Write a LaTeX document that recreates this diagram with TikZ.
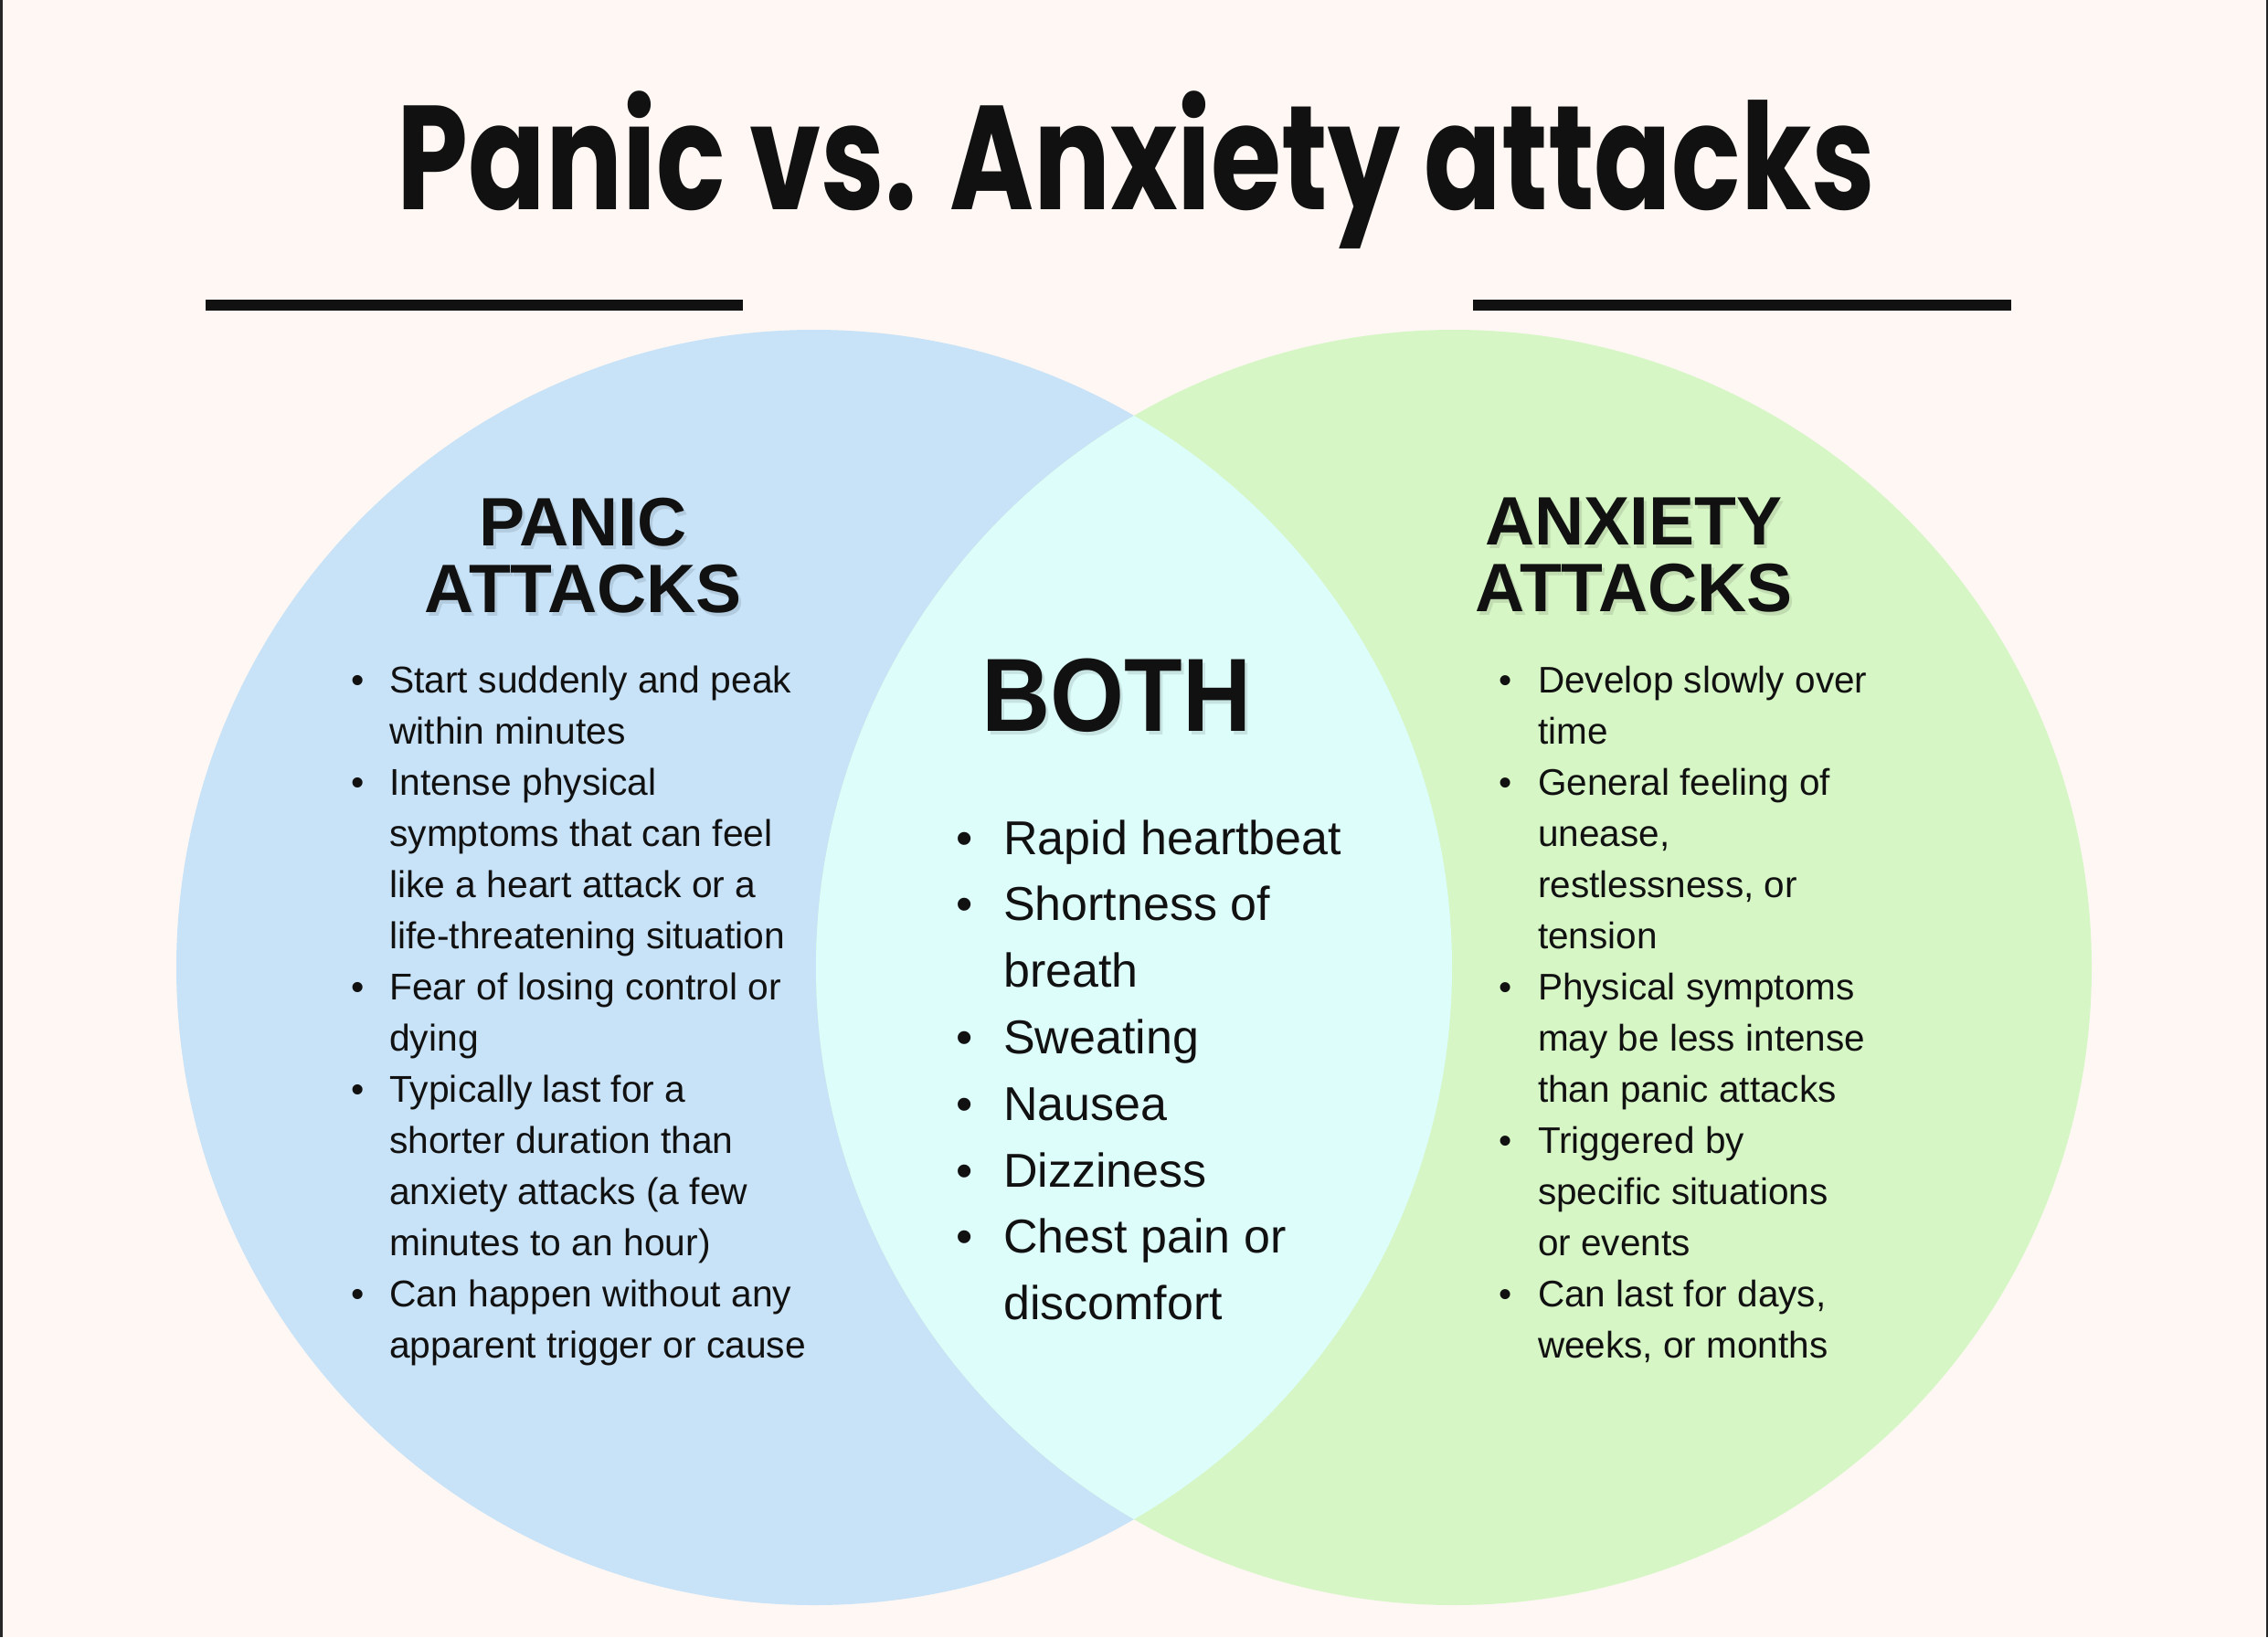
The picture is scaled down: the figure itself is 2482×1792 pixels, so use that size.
\documentclass[tikz,border=0pt]{standalone}
\usepackage{fontspec}
\usepackage{array}
\usepackage{graphicx}
\setmainfont{Liberation Sans}
\newfontfamily\titlefont{Poppins}
\definecolor{bg}{HTML}{FEF7F3}
\definecolor{bluec}{HTML}{C8E3F8}
\definecolor{greenc}{HTML}{D6F6C5}
\definecolor{midc}{HTML}{DDFDFB}
\definecolor{ink}{HTML}{111111}
\newcommand{\headtxt}{\fontsize{75}{75}\selectfont\bfseries}
\newcommand{\bothtxt}[1]{\resizebox{295pt}{\height}{\fontsize{114}{114}\selectfont\bfseries #1}}
\begin{document}
\begin{tikzpicture}[x=1pt,y=-1pt,
  lst/.style={anchor=base west, inner sep=0pt, text=ink},
  head/.style={anchor=base, inner sep=0pt, text=ink, font=\headtxt},
  headshadow/.style={anchor=base, inner sep=0pt, text=black, opacity=0.10, font=\headtxt},
  rule/.style={line width=12pt, ink},
  frame/.style={line width=2.5pt, black!85}
]
\useasboundingbox (0,0) rectangle (2482,1792);
\fill[bg] (0,0) rectangle (2482,1792);
\draw[frame] (1.25,0) -- (1.25,1792);
\draw[frame] (2480.75,0) -- (2480.75,1792);

% circles
\fill[bluec] (891,1059) circle[radius=698pt];
\fill[greenc] (1591,1059) circle[radius=698pt];
\begin{scope}
  \clip (891,1059) circle[radius=698pt];
  \fill[midc] (1591,1059) circle[radius=698pt];
\end{scope}

% title and rules
\node[anchor=base, inner sep=0pt, text=ink] (title) at (1243.5,229)
  {\resizebox{1617pt}{\height}{\fontsize{162}{162}\selectfont\titlefont\bfseries Panic vs. Anxiety attacks}};
\coordinate (l1a) at (225,334);
\coordinate (l1b) at (813,334);
\coordinate (l2a) at (1612,334);
\coordinate (l2b) at (2201,334);
\draw[rule] (l1a) -- (l1b);
\draw[rule] (l2a) -- (l2b);

% headings (with soft shadow)
\node[headshadow] (pshA) at (641,601) {PANIC};
\node[headshadow] (pshB) at (641,674) {ATTACKS};
\node[headshadow] (ashA) at (1791,600) {ANXIETY};
\node[headshadow] (ashB) at (1791,673) {ATTACKS};
\node[anchor=base, inner sep=0pt, text=black, opacity=0.10] (bsh) at (1225,804) {\bothtxt{BOTH}};

\node[head] (ph1) at (638,597) {PANIC};
\node[head] (ph2) at (638,670) {ATTACKS};
\node[head] (ah1) at (1788,596) {ANXIETY};
\node[head] (ah2) at (1788,669) {ATTACKS};
\node[anchor=base, inner sep=0pt, text=ink] (both) at (1222,800) {\bothtxt{BOTH}};

% panic list
\node[lst] (plist) at (356,758) {\fontsize{40.8}{56}\selectfont
\begin{tabular}[t]{@{}>{\centering\arraybackslash}p{70pt}@{}l@{}}
\textbullet & Start suddenly and peak\\
 & within minutes\\
\textbullet & Intense physical\\
 & symptoms that can feel\\
 & like a heart attack or a\\
 & life-threatening situation\\
\textbullet & Fear of losing control or\\
 & dying\\
\textbullet & Typically last for a\\
 & shorter duration than\\
 & anxiety attacks (a few\\
 & minutes to an hour)\\
\textbullet & Can happen without any\\
 & apparent trigger or cause
\end{tabular}};

% anxiety list
\node[lst] (alist) at (1611,758) {\fontsize{40.5}{56}\selectfont
\begin{tabular}[t]{@{}>{\centering\arraybackslash}p{72pt}@{}l@{}}
\textbullet & Develop slowly over\\
 & time\\
\textbullet & General feeling of\\
 & unease,\\
 & restlessness, or\\
 & tension\\
\textbullet & Physical symptoms\\
 & may be less intense\\
 & than panic attacks\\
\textbullet & Triggered by\\
 & specific situations\\
 & or events\\
\textbullet & Can last for days,\\
 & weeks, or months
\end{tabular}};

% both list
\node[lst] (blist) at (1012,935) {\fontsize{52}{72.8}\selectfont
\begin{tabular}[t]{@{}>{\centering\arraybackslash}p{86pt}@{}l@{}}
\textbullet & Rapid heartbeat\\
\textbullet & Shortness of\\
 & breath\\
\textbullet & Sweating\\
\textbullet & Nausea\\
\textbullet & Dizziness\\
\textbullet & Chest pain or\\
 & discomfort
\end{tabular}};
\end{tikzpicture}
\end{document}
